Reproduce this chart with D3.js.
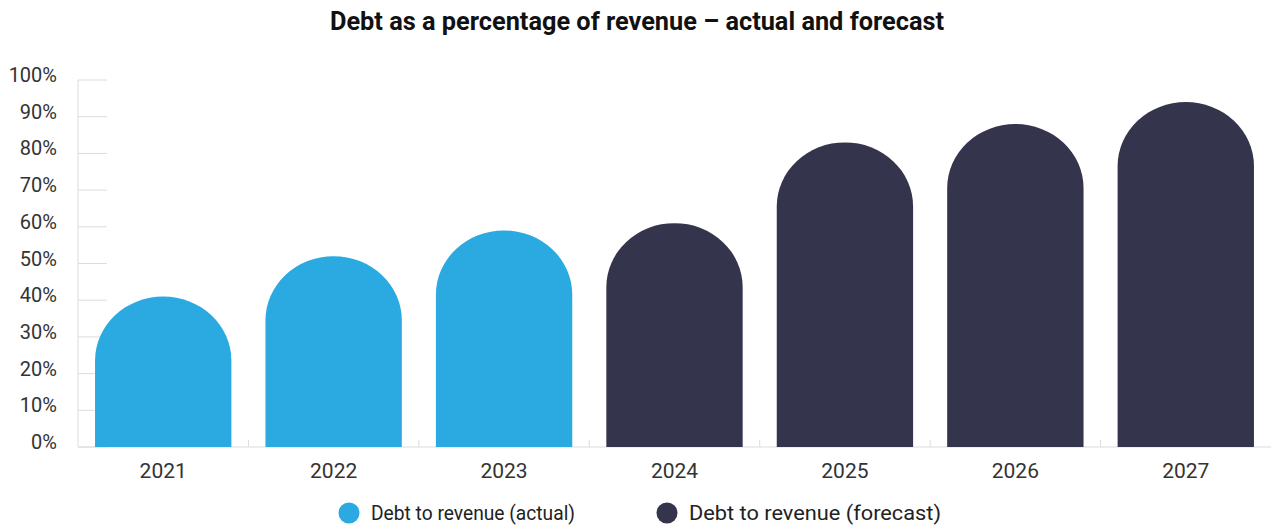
<!DOCTYPE html>
<html>
<head>
<meta charset="utf-8">
<script src="https://cdn.jsdelivr.net/npm/d3@7"></script>
<style>
  html, body { margin: 0; padding: 0; background: #fff; }
  svg { display: block; font-family: Roboto, "DejaVu Sans", sans-serif; }
</style>
</head>
<body>
<svg id="chart" width="1277" height="529"></svg>
<script>
// Debt to revenue ratio, % of revenue
const years = ["2021", "2022", "2023", "2024", "2025", "2026", "2027"];
const debtRatio = [41, 52, 59, 61, 83, 88, 94];
const kind = ["actual", "actual", "actual", "forecast", "forecast", "forecast", "forecast"];
const yTicks = [0, 10, 20, 30, 40, 50, 60, 70, 80, 90, 100];
const seriesNames = ["Debt to revenue (actual)", "Debt to revenue (forecast)"];

const colors = { actual: "#2aaae1", forecast: "#34344c" };

const svg = d3.select("#chart");
const margin = { left: 78, right: 6, top: 80, bottom: 82 };
const W = 1277, H = 529;
const y0 = H - margin.bottom; // baseline

const x = d3.scaleBand()
  .domain(years)
  .range([margin.left, W - margin.right])
  .paddingInner(0.2)
  .paddingOuter(0.1);

const y = d3.scaleLinear()
  .domain([0, 100])
  .range([y0, margin.top]);

// Title
svg.append("text")
  .attr("x", 637).attr("y", 30)
  .attr("text-anchor", "middle")
  .attr("font-size", 25).attr("font-weight", 700)
  .attr("textLength", 614).attr("lengthAdjust", "spacingAndGlyphs")
  .attr("fill", "#111")
  .text("Debt as a percentage of revenue \u2013 actual and forecast");

// Y axis: short tick stubs and labels
const yAxis = svg.append("g");
yAxis.append("line")
  .attr("x1", margin.left).attr("x2", margin.left)
  .attr("y1", y(100)).attr("y2", y0)
  .attr("stroke", "#dcdcdc");
yAxis.selectAll("line.tick").data(yTicks).join("line")
  .attr("class", "tick")
  .attr("x1", margin.left).attr("x2", margin.left + 29)
  .attr("y1", d => y(d)).attr("y2", d => y(d))
  .attr("stroke", "#dcdcdc");
yAxis.selectAll("text").data(yTicks).join("text")
  .attr("x", 57).attr("y", d => y(d) + 2)
  .attr("text-anchor", "end")
  .attr("font-size", 20)
  .attr("fill", "#333")
  .text(d => d + "%");

// X axis baseline with separators between categories
const xAxis = svg.append("g");
xAxis.append("line")
  .attr("x1", margin.left).attr("x2", W - margin.right)
  .attr("y1", y0).attr("y2", y0)
  .attr("stroke", "#dcdcdc");
const step = x.step();
xAxis.selectAll("line.sep").data(years.slice(1)).join("line")
  .attr("class", "sep")
  .attr("x1", d => x(d) - step * x.paddingInner() / 2)
  .attr("x2", d => x(d) - step * x.paddingInner() / 2)
  .attr("y1", y0).attr("y2", y0 - 7)
  .attr("stroke", "#dcdcdc");
xAxis.selectAll("text").data(years).join("text")
  .attr("x", d => x(d) + x.bandwidth() / 2)
  .attr("y", y0 + 31)
  .attr("text-anchor", "middle")
  .attr("font-size", 21)
  .attr("fill", "#333")
  .text(d => d);

// Bars with an elliptical arched top; the apex sits at the value
const bw = x.bandwidth();
const rx = bw / 2;
const ry = bw * 0.47;
function archPath(i) {
  const left = x(years[i]);
  const top = y(debtRatio[i]);
  const shoulder = top + ry;
  return `M${left},${y0}L${left},${shoulder}` +
    `A${rx},${ry} 0 0 1 ${left + bw},${shoulder}` +
    `L${left + bw},${y0}Z`;
}
svg.append("g").selectAll("path").data(years).join("path")
  .attr("d", (d, i) => archPath(i))
  .attr("fill", (d, i) => colors[kind[i]]);

// Legend
const legendItems = [
  { name: seriesNames[0], color: colors.actual, cx: 349, len: 204 },
  { name: seriesNames[1], color: colors.forecast, cx: 667, len: 252 }
];
const lg = svg.append("g");
lg.selectAll("circle").data(legendItems).join("circle")
  .attr("cx", d => d.cx).attr("cy", 513).attr("r", 10.5)
  .attr("fill", d => d.color);
lg.selectAll("text").data(legendItems).join("text")
  .attr("x", d => d.cx + 22).attr("y", 520)
  .attr("font-size", 19.5)
  .attr("textLength", d => d.len).attr("lengthAdjust", "spacingAndGlyphs")
  .attr("fill", "#222")
  .text(d => d.name);
</script>
</body>
</html>
